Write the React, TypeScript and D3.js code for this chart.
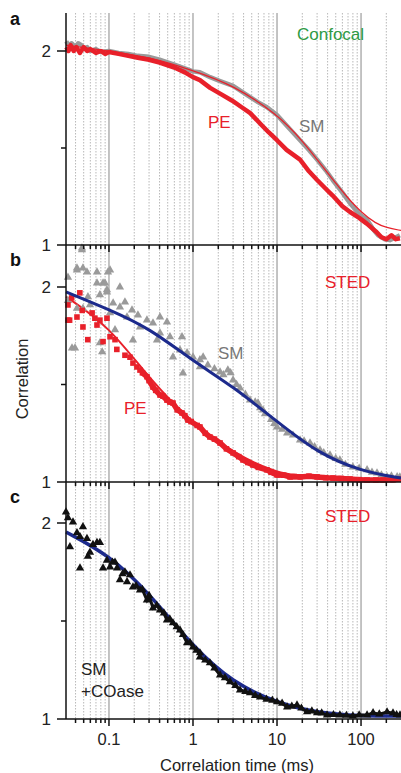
import * as d3 from 'd3'

// correlation time (ms), correlation value
const confocalPE = [
  [0.031, 2.02], [0.033, 2.0], [0.035, 2.03], [0.038, 2.0], [0.041, 2.02], [0.045, 1.99], [0.05, 2.02],
  [0.055, 2.0], [0.06, 2.01], [0.07, 1.99], [0.08, 2.0], [0.09, 1.985], [0.1, 1.995], [0.13, 1.985],
  [0.17, 1.975], [0.22, 1.965], [0.3, 1.955], [0.4, 1.94], [0.6, 1.915], [0.8, 1.89], [1.0, 1.865],
  [1.21, 1.85], [1.6, 1.81], [2.1, 1.78], [2.9, 1.745], [3.8, 1.71], [4.8, 1.68], [6.5, 1.62], [8, 1.58],
  [10, 1.54], [13, 1.49], [18.8, 1.44], [24, 1.38], [30, 1.335], [38, 1.29], [46, 1.255], [60, 1.2],
  [74, 1.17], [95, 1.14], [117, 1.11], [150, 1.07], [175, 1.04], [200, 1.03], [230, 1.05], [260, 1.03], [290, 1.035],
]
const confocalSM = [
  [0.031, 2.05], [0.033, 2.03], [0.036, 2.04], [0.04, 2.02], [0.043, 2.04], [0.047, 2.03], [0.05, 2.01],
  [0.055, 2.02], [0.06, 2.0], [0.07, 2.01], [0.08, 1.995], [0.1, 2.0], [0.13, 1.99], [0.17, 1.985],
  [0.22, 1.975], [0.3, 1.97], [0.4, 1.955], [0.6, 1.93], [0.8, 1.91], [1.0, 1.895], [1.21, 1.89],
  [1.6, 1.865], [2.1, 1.845], [3.0, 1.82], [4.5, 1.77], [6, 1.735], [7.6, 1.71], [10, 1.67], [14, 1.6],
  [18.8, 1.54], [24, 1.49], [30, 1.44], [38, 1.385], [46, 1.335], [60, 1.27], [74, 1.215], [95, 1.16],
  [118, 1.13], [140, 1.08], [160, 1.05], [190, 1.03], [220, 1.025], [260, 1.04], [290, 1.05],
]
const confocalFit = [
  [0.0308, 2.03], [0.1, 2.0], [0.3, 1.97], [1, 1.9], [3, 1.825], [10, 1.675], [20, 1.54], [40, 1.37],
  [70, 1.24], [100, 1.17], [150, 1.11], [200, 1.09], [299, 1.075],
]

const stedSM = [
  [0.0325, 2.05], [0.0416, 2.087], [0.0477, 2.2], [0.0547, 2.077], [0.072, 2.077], [0.0973, 2.077],
  [0.0363, 1.687], [0.0394, 1.687], [0.0594, 1.908], [0.072, 2.02], [0.085, 2.02], [0.0946, 1.985],
  [0.078, 1.96], [0.0562, 1.95], [0.049, 1.89], [0.0416, 1.89], [0.083, 1.667], [0.112, 1.918],
  [0.135, 1.897], [0.155, 1.923], [0.164, 1.846], [0.188, 1.882], [0.221, 1.856], [0.283, 1.83],
  [0.334, 1.815], [0.405, 1.846], [0.49, 1.82], [0.532, 1.744], [0.74, 1.744], [0.76, 1.559],
  [0.85, 1.662], [1, 1.641], [1.21, 1.626], [0.405, 1.764], [0.234, 1.795], [0.118, 1.78],
  [0.193, 1.728], [0.078, 1.713], [0.103, 1.867], [0.578, 1.641], [0.7, 1.677], [0.373, 1.728],
  [0.0477, 2.19], [0.0416, 2.097], [0.049, 2.097], [0.103, 2.087], [0.0896, 2.02], [0.135, 2.0],
  [0.0946, 1.974], [0.0325, 1.93],
  [1.32, 1.641], [1.21, 1.59], [2.1, 1.564], [2.6, 1.574], [3.0, 1.523], [3.63, 1.482], [4.77, 1.42],
  [5.94, 1.405], [6.81, 1.369], [10, 1.282], [13.2, 1.251], [18.8, 1.215], [24.7, 1.2], [32.5, 1.164],
  [42.7, 1.138], [56, 1.113], [80, 1.077], [118, 1.062], [155, 1.046], [204, 1.026], [269, 1.026],
  [1.5, 1.6], [1.8, 1.58], [2.3, 1.55], [2.8, 1.56], [3.3, 1.5], [4.2, 1.45], [5.5, 1.41], [6.3, 1.38],
  [7.2, 1.35], [8.5, 1.32], [9.3, 1.3], [11.5, 1.27], [15.5, 1.24], [21, 1.21], [28, 1.18], [36, 1.15],
  [50, 1.12], [65, 1.09], [95, 1.07], [135, 1.05], [175, 1.035], [230, 1.03], [290, 1.025],
]
const stedPE = [
  [0.0325, 1.908], [0.036, 1.944], [0.045, 1.97], [0.034, 1.83], [0.0416, 1.846], [0.049, 1.795],
  [0.056, 1.73], [0.048, 1.88], [0.063, 1.867], [0.068, 1.84], [0.078, 1.83], [0.0946, 1.84],
  [0.085, 1.72], [0.072, 1.805], [0.103, 1.745], [0.118, 1.73], [0.124, 1.68], [0.155, 1.65],
  [0.178, 1.64], [0.193, 1.61], [0.215, 1.59], [0.234, 1.574], [0.0325, 1.83],
  [0.25, 1.56], [0.283, 1.54], [0.3, 1.52], [0.334, 1.487], [0.36, 1.47], [0.405, 1.446], [0.44, 1.44],
  [0.49, 1.42], [0.53, 1.41], [0.578, 1.405], [0.65, 1.37], [0.74, 1.354], [0.8, 1.34], [0.87, 1.318],
  [0.95, 1.31], [1.12, 1.29], [1.21, 1.282], [1.4, 1.25], [1.59, 1.231], [1.8, 1.22], [2.1, 1.2],
  [2.5, 1.17], [3.0, 1.149], [3.5, 1.13], [3.94, 1.113], [4.5, 1.1], [5.18, 1.087], [6, 1.075],
  [7.6, 1.062], [8.5, 1.05], [10, 1.036], [12, 1.035], [14.3, 1.026], [16, 1.028], [18.8, 1.026],
  [24, 1.03], [30, 1.026], [38, 1.022], [46.4, 1.02], [58, 1.018], [74, 1.015], [95, 1.012],
  [118, 1.01], [150, 1.01], [183, 1.01], [240, 1.012], [291, 1.015],
]
const stedSMFit = [
  [0.0308, 1.975], [0.1, 1.885], [0.3, 1.79], [1, 1.62], [3, 1.49], [10, 1.31], [30, 1.15],
  [100, 1.055], [299, 1.02],
]
const stedPEFit = [
  [0.0308, 1.95], [0.1, 1.8], [0.3, 1.53], [1, 1.3], [3, 1.15], [10, 1.04], [30, 1.02], [299, 1.01],
]

const coase = [
  [0.0308, 2.056], [0.0325, 2.026], [0.0373, 2.005], [0.049, 1.98], [0.0416, 1.95], [0.0547, 1.92],
  [0.0343, 1.878], [0.0452, 1.77], [0.0562, 1.83], [0.072, 1.9], [0.078, 1.9], [0.0946, 1.81],
  [0.103, 1.775], [0.118, 1.8], [0.135, 1.71], [0.164, 1.7], [0.178, 1.735], [0.193, 1.673],
  [0.234, 1.658], [0.283, 1.607], [0.334, 1.566], [0.405, 1.556], [0.49, 1.505], [0.578, 1.49],
  [0.7, 1.454], [0.85, 1.388], [1, 1.367], [1.21, 1.337], [0.085, 1.77], [0.0594, 1.85],
  [0.0452, 1.93], [0.0645, 1.89],
  [1.21, 1.316], [1.59, 1.286], [2.1, 1.224], [2.76, 1.19], [3.63, 1.148], [4.77, 1.133], [6.28, 1.112],
  [10, 1.087], [13.2, 1.061], [17.3, 1.071], [22.8, 1.036], [30, 1.031], [39.4, 1.02], [56, 1.02],
  [80, 1.015], [118, 1.02], [139, 1.031], [204, 1.036], [291, 1.02],
  [0.11, 1.8], [0.125, 1.77], [0.145, 1.74], [0.155, 1.75], [0.21, 1.68], [0.25, 1.66], [0.3, 1.63],
  [0.37, 1.58], [0.45, 1.54], [0.53, 1.51], [0.64, 1.47], [0.76, 1.43], [0.92, 1.39], [1.1, 1.35],
  [1.4, 1.3], [1.8, 1.26], [2.4, 1.21], [3.2, 1.17], [4.2, 1.14], [5.5, 1.12], [7.5, 1.1], [8.8, 1.095],
  [11.5, 1.08], [15, 1.065], [19.5, 1.055], [26, 1.04], [34, 1.03], [47, 1.022], [67, 1.018],
  [95, 1.02], [165, 1.025], [240, 1.03], [265, 1.022],
]
const coaseFit = [
  [0.0308, 1.954], [0.1, 1.837], [0.3, 1.643], [1, 1.367], [3.0, 1.184], [10, 1.082], [30, 1.031],
  [100, 1.015], [299, 1.015],
]

const xTickLabels = [0.1, 1, 10, 100]
const yMajor = [1, 2]
const yMinor = [1.5]

const RED = '#e8202a'
const GRAY = '#9a9a9a'
const BLUE = '#1c2a8c'
const FONT = 'Liberation Sans, Arial, Helvetica, sans-serif'

const x = d3.scaleLog().domain([0.0308, 299]).range([66, 401])
const panels = [
  { key: 'a', top: 13, y: d3.scaleLinear().domain([1, 2]).range([245, 51]) },
  { key: 'b', top: 246, y: d3.scaleLinear().domain([1, 2]).range([482, 287]) },
  { key: 'c', top: 483, y: d3.scaleLinear().domain([1, 2]).range([719, 523]) },
]
const gridTicks = x.ticks()
const isDecade = (t: number) => Math.abs(Math.log10(t) - Math.round(Math.log10(t))) < 1e-6
const sortT = (arr: number[][]) => [...arr].sort((p, q) => p[0] - q[0])

export default function App() {
  const [pa, pb, pc] = panels
  const lineFor = (y: d3.ScaleLinear<number, number>) =>
    d3.line<number[]>().x(d => x(d[0])).y(d => y(d[1]))
  const smooth = (y: d3.ScaleLinear<number, number>) =>
    d3.line<number[]>().x(d => x(d[0])).y(d => y(d[1])).curve(d3.curveBasis)
  const tri = d3.symbol(d3.symbolTriangle, 30)()

  return (
    <svg width={401} height={773} style={{ position: 'absolute', left: 0, top: 0, background: '#fff' }}
      fontFamily={FONT}>
      {panels.map(p => {
        const bottom = p.y(1)
        return (
          <g key={p.key}>
            {gridTicks.map(t => (
              <line key={t} x1={x(t)} x2={x(t)} y1={p.top} y2={bottom}
                stroke={isDecade(t) ? '#9c9c9c' : '#b0b0b0'} strokeWidth={isDecade(t) ? 1.2 : 0.9}
                strokeDasharray={isDecade(t) ? undefined : '1.5,1.5'} />
            ))}
          </g>
        )
      })}

      {/* panel a: confocal */}
      <path d={lineFor(pa.y)(confocalSM) ?? ''} fill="none" stroke={GRAY} strokeWidth={4.5} strokeLinejoin="round" />
      <path d={lineFor(pa.y)(confocalPE) ?? ''} fill="none" stroke={RED} strokeWidth={4.5} strokeLinejoin="round" />
      <path d={smooth(pa.y)(confocalFit) ?? ''} fill="none" stroke={RED} strokeWidth={1.2} />

      {/* panel b: STED */}
      <path d={smooth(pb.y)(stedPEFit) ?? ''} fill="none" stroke={RED} strokeWidth={2} />
      {stedSM.map((d, i) => (
        <path key={'s' + i} d={tri ?? ''} transform={`translate(${x(d[0])},${pb.y(d[1])})`} fill={GRAY} />
      ))}
      <path d={lineFor(pb.y)(sortT(stedPE).filter(d => d[0] > 0.24)) ?? ''} fill="none" stroke={RED} strokeWidth={5.5} />
      {stedPE.map((d, i) => (
        <rect key={'p' + i} x={x(d[0]) - 2.8} y={pb.y(d[1]) - 2.8} width={5.6} height={5.6} fill={RED} />
      ))}
      <path d={smooth(pb.y)(stedSMFit) ?? ''} fill="none" stroke={BLUE} strokeWidth={3} />

      {/* panel c: STED + COase */}
      <path d={smooth(pc.y)(coaseFit) ?? ''} fill="none" stroke={BLUE} strokeWidth={3.5} />
      <path d={lineFor(pc.y)(sortT(coase).filter(d => d[0] > 0.2)) ?? ''} fill="none" stroke="#111" strokeWidth={3} />
      {coase.map((d, i) => (
        <path key={'c' + i} d={tri ?? ''} transform={`translate(${x(d[0])},${pc.y(d[1])})`} fill="#111" />
      ))}

      {/* axes */}
      <line x1={66} x2={66} y1={13} y2={719} stroke="#111" strokeWidth={1.5} />
      {panels.map(p => {
        const bottom = p.y(1)
        return (
          <g key={'ax' + p.key}>
            <line x1={66} x2={401} y1={bottom} y2={bottom} stroke="#111" strokeWidth={1.5} />
            {gridTicks.map(t => (
              <line key={t} x1={x(t)} x2={x(t)} y1={bottom} y2={bottom + (isDecade(t) ? 7 : 4)}
                stroke="#111" strokeWidth={1.5} />
            ))}
            {yMajor.map(v => (
              <g key={v}>
                <line x1={57} x2={66} y1={p.y(v)} y2={p.y(v)} stroke="#111" strokeWidth={1.5} />
                <text x={51} y={p.y(v) + 6} fontSize={17} textAnchor="end" fill="#222">{v}</text>
              </g>
            ))}
            {yMinor.map(v => (
              <line key={v} x1={61} x2={66} y1={p.y(v)} y2={p.y(v)} stroke="#111" strokeWidth={1.5} />
            ))}
            <text x={10} y={p.top + (p.key === 'a' ? 12 : 20)} fontSize={18} fontWeight="bold" fill="#111">{p.key}</text>
          </g>
        )
      })}
      {xTickLabels.map(t => (
        <text key={t} x={x(t)} y={745} fontSize={16.5} textAnchor="middle" fill="#222">{t}</text>
      ))}
      <text x={237} y={771} fontSize={16.5} textAnchor="middle" fill="#222">Correlation time (ms)</text>
      <text transform="translate(28,379) rotate(-90)" fontSize={16.5} textAnchor="middle" fill="#222">Correlation</text>

      {/* annotations */}
      <text x={297} y={40} fontSize={17} fill="#2e9a44">Confocal</text>
      <text x={208} y={128} fontSize={17} fill={RED}>PE</text>
      <text x={299} y={132} fontSize={17} fill="#777">SM</text>
      <text x={325} y={288} fontSize={17} fill={RED}>STED</text>
      <text x={124} y={414} fontSize={17} fill={RED}>PE</text>
      <text x={218} y={359} fontSize={17} fill="#777">SM</text>
      <text x={325} y={522} fontSize={17} fill={RED}>STED</text>
      <text x={81} y={675} fontSize={17} fill="#222">SM</text>
      <text x={81} y={697} fontSize={17} fill="#222">+COase</text>
    </svg>
  )
}
